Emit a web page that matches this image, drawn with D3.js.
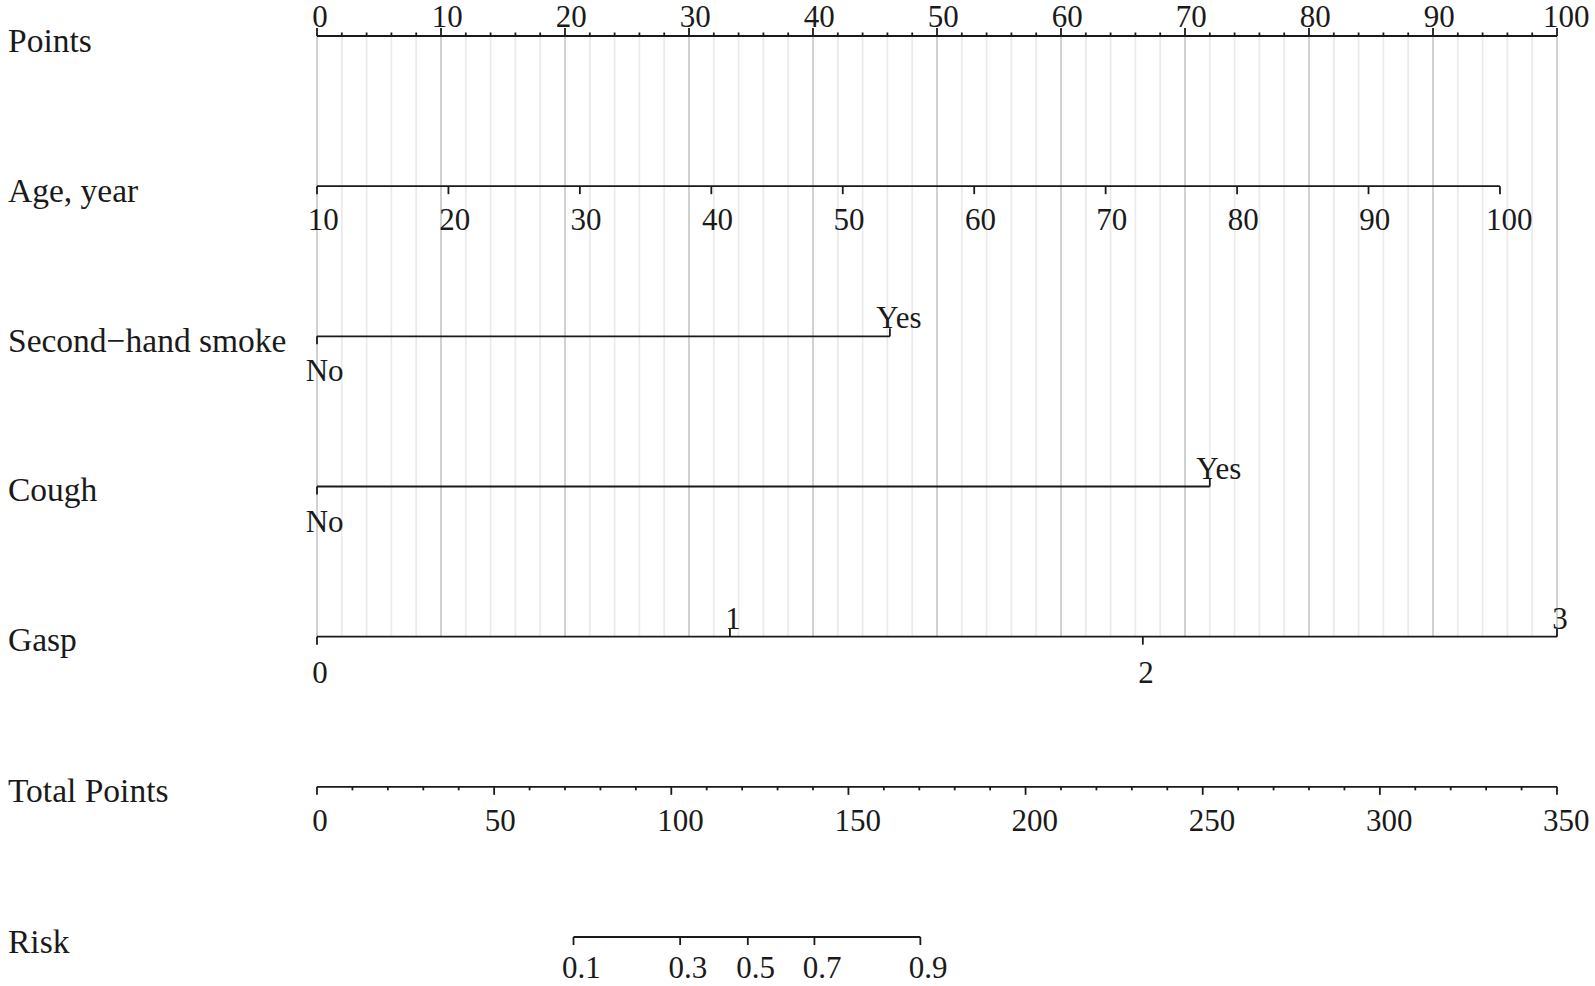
<!DOCTYPE html>
<html>
<head>
<meta charset="utf-8">
<script src="https://cdn.jsdelivr.net/npm/d3@7"></script>
<style>
  html, body { margin: 0; padding: 0; background: #fff; }
  svg { display: block; }
  text { font-family: "Liberation Serif", "Times New Roman", serif; fill: #1a1a1a; }
</style>
</head>
<body>
<svg id="chart" width="1595" height="986"></svg>
<script>
// ---- Data ----
const rowLabels = ["Points", "Age, year", "Second\u2212hand smoke", "Cough", "Gasp", "Total Points", "Risk"];

const pointsTicks = [0, 10, 20, 30, 40, 50, 60, 70, 80, 90, 100];
const pointsMinor = [0, 2, 4, 6, 8, 10, 12, 14, 16, 18, 20, 22, 24, 26, 28, 30, 32, 34, 36, 38, 40,
                     42, 44, 46, 48, 50, 52, 54, 56, 58, 60, 62, 64, 66, 68, 70, 72, 74, 76, 78, 80,
                     82, 84, 86, 88, 90, 92, 94, 96, 98, 100];

const ageLabels = ["10", "20", "30", "40", "50", "60", "70", "80", "90", "100"];
const agePoints = [0, 10.6, 21.2, 31.8, 42.4, 53.0, 63.6, 74.2, 84.8, 95.4];

const smokeLabels = ["No", "Yes"];
const smokePoints = [0, 46.2];

const coughLabels = ["No", "Yes"];
const coughPoints = [0, 72.0];

const gaspLabels = ["0", "1", "2", "3"];
const gaspPoints = [0, 33.3, 66.6, 100];
const gaspSide = ["below", "above", "below", "above"];

const totalTicks = [0, 50, 100, 150, 200, 250, 300, 350];
const totalMinor = [0, 10, 20, 30, 40, 50, 60, 70, 80, 90, 100, 110, 120, 130, 140, 150, 160, 170, 180,
                    190, 200, 210, 220, 230, 240, 250, 260, 270, 280, 290, 300, 310, 320, 330, 340, 350];

const riskLabels = ["0.1", "0.3", "0.5", "0.7", "0.9"];
const riskTotalPoints = [72.4, 102.5, 121.6, 140.4, 170.3];

// ---- Scales ----
const svg = d3.select("#chart");
const x = d3.scaleLinear().domain([0, 100]).range([317, 1557]);
const xTotal = d3.scaleLinear().domain([0, 350]).range([317, 1557]);
const y = d3.scaleLinear().domain([0, 6]).range([36, 937]);

const LINE = "#1a1a1a";
const MAJOR = 8, MINOR = 3.5;
const TICKFONT = 31;

const gGrid = svg.append("g");
const gAxes = svg.append("g");
const gText = svg.append("g");

// Grid
gGrid.selectAll("line")
  .data(pointsMinor)
  .join("line")
  .attr("x1", d => x(d)).attr("x2", d => x(d))
  .attr("y1", y(0)).attr("y2", y(4))
  .attr("stroke", d => d % 10 === 0 ? "#c9c9c9" : "#eaeaea")
  .attr("stroke-width", 1.7);

function hline(x1, x2, yy) {
  gAxes.append("line").attr("x1", x1).attr("x2", x2).attr("y1", yy).attr("y2", yy)
    .attr("stroke", LINE).attr("stroke-width", 1.8);
}
function tick(xx, yy, len) { // len negative = up
  gAxes.append("line").attr("x1", xx).attr("x2", xx).attr("y1", yy).attr("y2", yy + len)
    .attr("stroke", LINE).attr("stroke-width", 1.8);
}
function label(txt, xx, baseline, size) {
  const t = gText.append("text").attr("y", baseline).attr("font-size", size).text(txt);
  const w = t.node().getComputedTextLength();
  t.attr("x", xx - 0.3 * w);
}

// Row labels
const rowLabelDy = [16, 16, 16, 14, 14, 15, 16];
rowLabels.forEach((l, i) => {
  gText.append("text").attr("x", 8).attr("y", y(i) + rowLabelDy[i]).attr("font-size", 33.5).text(l);
});

// Points axis (row 0)
hline(x(0), x(100), y(0));
pointsMinor.forEach(v => { if (v % 10 !== 0) tick(x(v), y(0), -MINOR); });
pointsTicks.forEach(v => { tick(x(v), y(0), -MAJOR); label(String(v), x(v), y(0) - 9, TICKFONT); });

// Age (row 1)
hline(x(agePoints[0]), x(agePoints[agePoints.length - 1]), y(1));
agePoints.forEach((p, i) => { tick(x(p), y(1), MAJOR); label(ageLabels[i], x(p), y(1) + 44, TICKFONT); });

// Binary rows
function binaryRow(row, labels, pts) {
  hline(x(pts[0]), x(pts[1]), y(row));
  tick(x(pts[0]), y(row), MAJOR);
  label(labels[0], x(pts[0]), y(row) + 45, 31);
  tick(x(pts[1]), y(row), -MAJOR);
  label(labels[1], x(pts[1]), y(row) - 8, 31);
}
binaryRow(2, smokeLabels, smokePoints);
binaryRow(3, coughLabels, coughPoints);

// Gasp (row 4)
hline(x(gaspPoints[0]), x(gaspPoints[gaspPoints.length - 1]), y(4));
gaspPoints.forEach((p, i) => {
  if (gaspSide[i] === "above") { tick(x(p), y(4), -MAJOR); label(gaspLabels[i], x(p), y(4) - 8, 31); }
  else { tick(x(p), y(4), MAJOR); label(gaspLabels[i], x(p), y(4) + 46, 31); }
});

// Total Points (row 5)
hline(xTotal(0), xTotal(350), y(5));
totalMinor.forEach(v => { if (v % 50 !== 0) tick(xTotal(v), y(5), MINOR); });
totalTicks.forEach(v => { tick(xTotal(v), y(5), MAJOR); label(String(v), xTotal(v), y(5) + 44, TICKFONT); });

// Risk (row 6)
hline(xTotal(riskTotalPoints[0]), xTotal(riskTotalPoints[riskTotalPoints.length - 1]), y(6));
riskTotalPoints.forEach((p, i) => { tick(xTotal(p), y(6), MAJOR); label(riskLabels[i], xTotal(p), y(6) + 41, TICKFONT); });
</script>
</body>
</html>
